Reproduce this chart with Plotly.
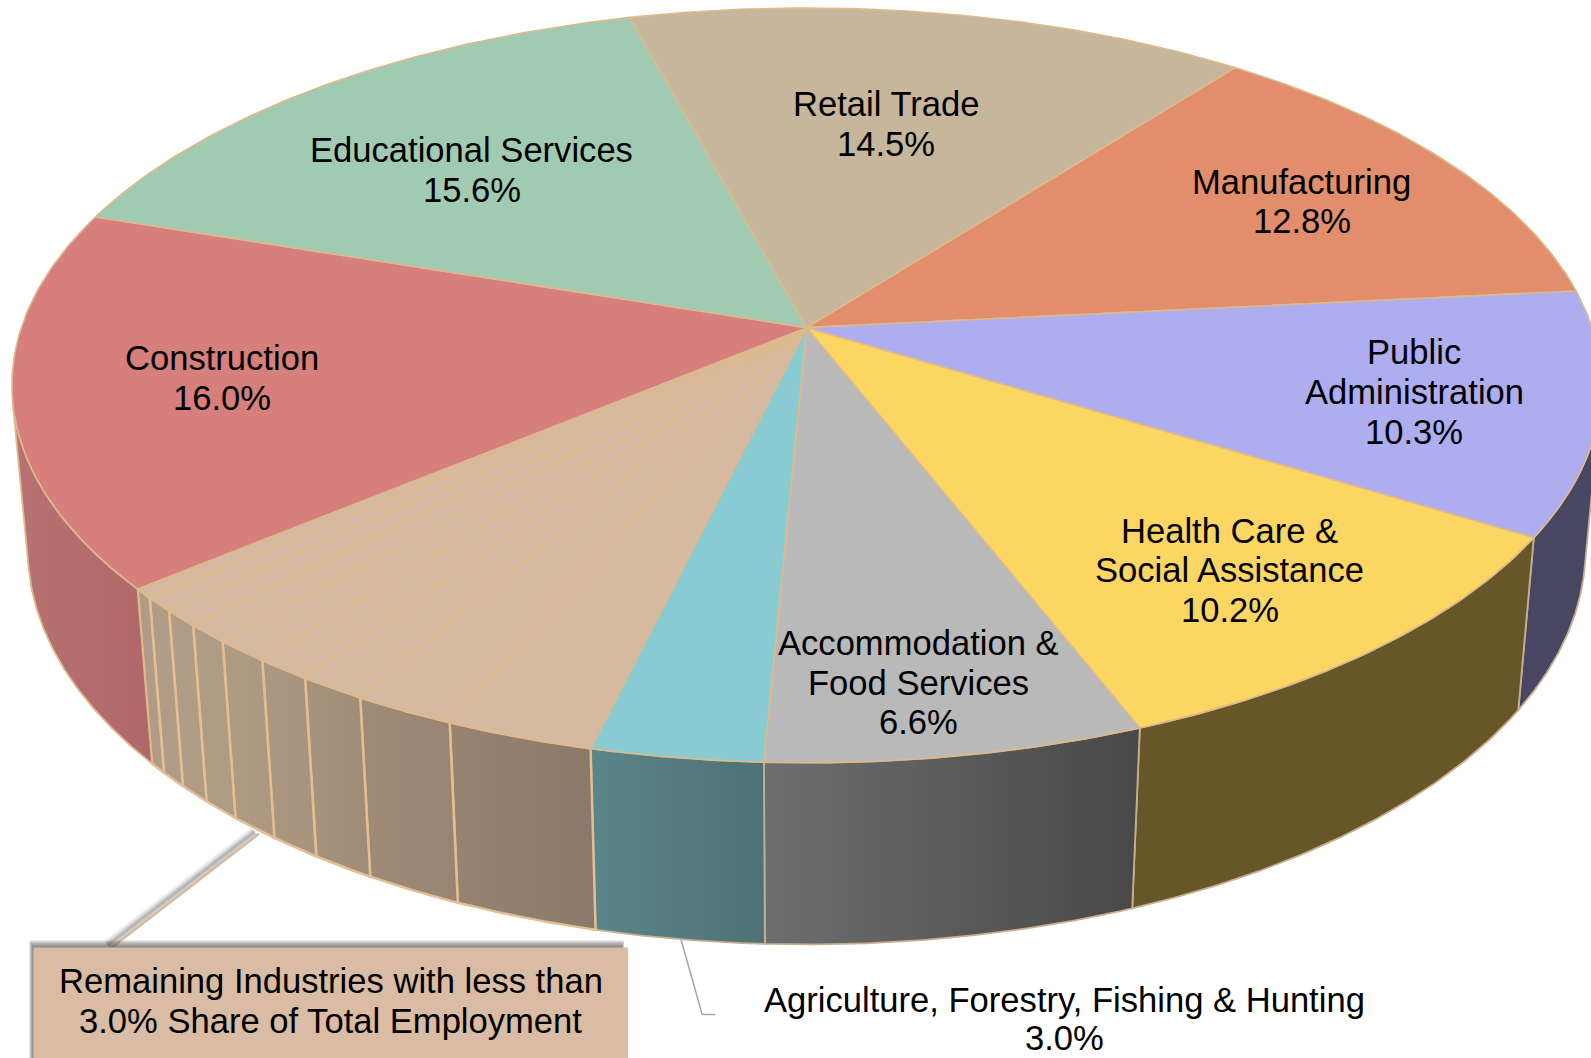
import numpy as np
import plotly.graph_objects as go

# Slices clockwise, starting at the Manufacturing slice
CATEGORIES = ["Manufacturing", "Public Administration", "Health Care & Social Assistance",
              "Accommodation & Food Services", "Agriculture, Forestry, Fishing & Hunting",
              "Remaining 1", "Remaining 2", "Remaining 3", "Remaining 4", "Remaining 5",
              "Remaining 6", "Remaining 7", "Remaining 8", "Remaining 9",
              "Construction", "Educational Services", "Retail Trade"]
SHARES = [12.8, 10.3, 10.2, 6.6, 3.0,
          2.6, 1.8, 1.2, 1.0, 1.0, 0.8, 0.7, 0.6, 0.4,
          16.0, 15.6, 14.5]
TAN = "#D5B9A0"
TOP_COLORS = ["#E28E6C", "#ADADEF", "#FBD662", "#B9B9B9", "#88CBD3"] + [TAN] * 9 + ["#D67F7D", "#A0CBB2", "#C6B69C"]
SIDE_LEFT = [None, "#474763", "#665628", "#6E6E6E", "#5A8589",
             "#988471", "#A08B77", "#A8937E", "#AC9781", "#AF9A84", "#B09B85", "#B09B86", "#B09B86", "#B09B86",
             "#B87272", None, None]
SIDE_RIGHT = [None, "#474763", "#665628", "#484848", "#4E7276",
              "#8C7868", "#988471", "#A08B77", "#A8937E", "#AC9781", "#AF9A84", "#B09B85", "#B09B86", "#B09B86",
              "#B06767", None, None]

# label text lines with (x, y) of each line in picture units
LABELS = [
    ("Retail Trade", 873, 103), ("14.5%", 873, 142),
    ("Educational Services", 465, 148), ("15.6%", 465, 187),
    ("Manufacturing", 1283, 179), ("12.8%", 1283, 218),
    ("Public", 1394, 347), ("Administration", 1394, 386), ("10.3%", 1394, 426),
    ("Health Care &", 1212, 523), ("Social Assistance", 1212, 562), ("10.2%", 1212, 601),
    ("Accommodation &", 905, 634), ("Food Services", 905, 673), ("6.6%", 905, 712),
    ("Construction", 219, 353), ("16.0%", 219, 392),
    ("Agriculture, Forestry, Fishing & Hunting", 1049, 986), ("3.0%", 1049, 1023),
    ("Remaining Industries with less than", 326, 967), ("3.0% Share of Total Employment", 326, 1007),
]

# Perspective camera fitted to the picture
CX, CY, A, B, K, M, N = 795.0, 323.0, 774.0, 363.3, 0.153, 0.02, 163.9
START_DEG = 37.7
W, H = 1568, 1043
LINE = "#DDB98C"


def project(theta, h):
    u, v = np.sin(theta), -np.cos(theta)
    w = 1 - K * v + M * h
    return CX + A * u / w, CY + (B * v + N * h) / w


edges = START_DEG + np.concatenate([[0], np.cumsum(SHARES)]) / sum(SHARES) * 360
edges = np.radians(edges)
# wall silhouette: tangent rulings through the vertical vanishing point
v_far = (N / B) / (M + K * N / B)
fold = np.arccos(1 / v_far)          # angle measured from the front
wall_lo, wall_hi = np.pi - fold, np.pi + fold
fig = go.Figure()


def poly(x, y, **kw):
    fig.add_trace(go.Scatter(x=x, y=y, mode="lines", fill="toself", hoverinfo="skip",
                             showlegend=False, **kw))


def line(x, y, color, width):
    fig.add_trace(go.Scatter(x=x, y=y, mode="lines", hoverinfo="skip", showlegend=False,
                             line=dict(color=color, width=width)))


# leader lines with soft shadow
for width, alpha in [(12, .05), (9, .08), (6, .12), (3, .18)]:
    line([251, 106], [820, 932], f"rgba(60,60,60,{alpha})", width)
line([255, 110], [822, 934], TAN, 2.5)
line([670, 692, 705], [922, 1000, 1000], "#A6A6A6", 1.5)

# side walls
for i, name in enumerate(CATEGORIES):
    if SIDE_LEFT[i] is None:
        continue
    th = np.linspace(max(edges[i], wall_lo), min(edges[i + 1], wall_hi), 80)
    xt, yt = project(th, 0)
    xb, yb = project(th[::-1], 1)
    small = name.startswith("Remaining")
    poly(np.r_[xt, xb, xt[0]], np.r_[yt, yb, yt[0]],
         fillgradient=dict(type="horizontal",
                           colorscale=[[0, SIDE_LEFT[i]], [1, SIDE_RIGHT[i]]]),
         line=dict(color="#E3BE92" if small else (LINE if name == "Construction" else "#C8AE8F"),
                   width=2.5 if small else 1.8))

# top wedges
for i, name in enumerate(CATEGORIES):
    th = np.linspace(edges[i], edges[i + 1], 80)
    xt, yt = project(th, 0)
    poly(np.r_[CX, xt, CX], np.r_[CY, yt, CY], fillcolor=TOP_COLORS[i],
         line=dict(color=LINE, width=1.6))

# callout box with shadow
shapes = []
for s in range(7, 0, -1):
    shapes.append(dict(type="rect", xref="x", yref="y", x0=33 - s * 0.6, x1=613 + s * 0.3, y0=934 - s, y1=1043,
                       line_width=0, fillcolor="rgba(70,70,70,0.13)", layer="above"))
shapes.append(dict(type="rect", xref="x", yref="y", x0=33, x1=619, y0=934, y1=1043,
                   line_width=0, fillcolor="#D9BCA3", layer="above"))

annotations = [dict(x=x, y=y, text=t, showarrow=False, xanchor="center", yanchor="middle",
                    font=dict(family="Liberation Sans", size=34.6, color="#000000"))
               for t, x, y in LABELS]

fig.update_layout(
    width=1591, height=1058, margin=dict(l=0, r=0, t=0, b=0), autosize=False,
    paper_bgcolor="white", plot_bgcolor="white", showlegend=False,
    shapes=shapes, annotations=annotations,
    xaxis=dict(range=[0, W], visible=False, fixedrange=True),
    yaxis=dict(range=[H, 0], visible=False, fixedrange=True),
)
fig.write_html("out.html", config=dict(displayModeBar=False),
               post_script="document.body.style.margin='0';document.documentElement.style.overflow='hidden';")
